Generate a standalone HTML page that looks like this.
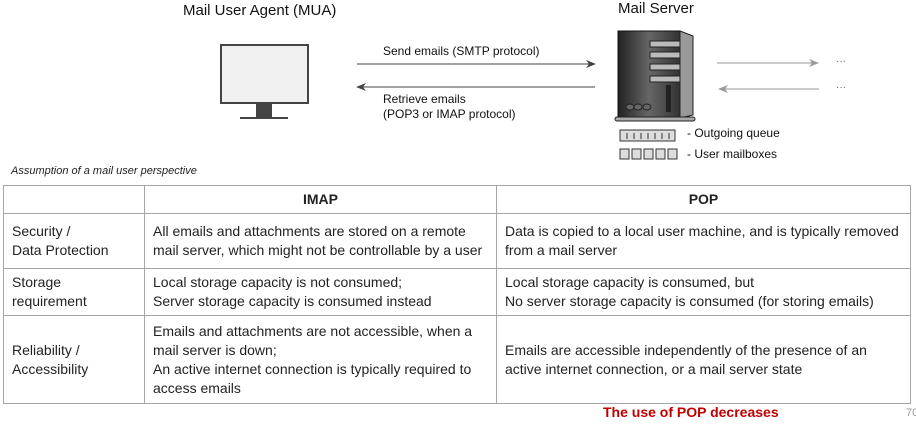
<!DOCTYPE html>
<html><head><style>
body{margin:0;width:916px;height:426px;background:#fff;position:relative;font-family:"Liberation Sans",sans-serif;overflow:hidden}
.t{position:absolute;white-space:nowrap;color:#111}
table{position:absolute;left:3px;top:185px;border-collapse:collapse;font-size:14px;color:#222}
td{border:1px solid #a6a6a6;padding:0 8px;vertical-align:middle;line-height:19px;white-space:nowrap}
</style></head><body>
<div class="t" style="left:183px;top:2px;font-size:15px">Mail User Agent (MUA)</div>
<div class="t" style="left:618px;top:0px;font-size:15px">Mail Server</div>
<div class="t" style="left:383px;top:44px;font-size:12px">Send emails (SMTP protocol)</div>
<div class="t" style="left:383px;top:92px;font-size:12px;line-height:15px">Retrieve emails<br>(POP3 or IMAP protocol)</div>
<svg style="position:absolute;left:0;top:0" width="916" height="180">
<rect x="221" y="45" width="87" height="58" fill="#f0f0f0" stroke="#444" stroke-width="2"/>
<rect x="256" y="104" width="16" height="14" fill="#444"/>
<rect x="240" y="117" width="48" height="2" fill="#444"/>
<line x1="357" y1="64" x2="592" y2="64" stroke="#444"/><path d="M596 64 L586 60 L589 64 L586 68Z" fill="#444"/>
<line x1="360" y1="87" x2="595" y2="87" stroke="#444"/><path d="M356 87 L366 83 L363 87 L366 91Z" fill="#444"/>
<line x1="717" y1="63" x2="815" y2="63" stroke="#999"/><path d="M819 63 L809 59 L812 63 L809 67Z" fill="#999"/>
<line x1="722" y1="89" x2="819" y2="89" stroke="#999"/><path d="M718 89 L728 85 L725 89 L728 93Z" fill="#999"/>
<text x="836" y="64" font-size="10" fill="#666">···</text><text x="836" y="90" font-size="10" fill="#666">···</text>
<defs><linearGradient id="g" x1="0" x2="1"><stop offset="0" stop-color="#222"/><stop offset=".5" stop-color="#666"/><stop offset="1" stop-color="#333"/></linearGradient></defs>
<rect x="618" y="31" width="62" height="87" fill="url(#g)" stroke="#111"/>
<path d="M680 31 L693 36 L693 115 L680 118Z" fill="#999" stroke="#222"/>
<g fill="#bbb" stroke="#222"><rect x="650" y="41" width="30" height="6"/><rect x="650" y="52" width="30" height="6"/><rect x="650" y="64" width="30" height="6"/><rect x="650" y="76" width="30" height="6"/></g>
<rect x="666" y="85" width="5" height="27" fill="#222"/>
<g fill="#666" stroke="#222"><ellipse cx="630" cy="107" rx="4" ry="3"/><ellipse cx="638" cy="107" rx="4" ry="3"/><ellipse cx="647" cy="107" rx="4" ry="3"/></g>
<rect x="615" y="117" width="80" height="4" rx="2" fill="#aaa" stroke="#222"/>
<rect x="620" y="130" width="55" height="11" fill="#ddd" stroke="#333"/>
<g stroke="#333"><line x1="627" y1="133" x2="627" y2="139"/><line x1="634" y1="133" x2="634" y2="139"/><line x1="641" y1="133" x2="641" y2="139"/><line x1="648" y1="133" x2="648" y2="139"/><line x1="655" y1="133" x2="655" y2="139"/><line x1="662" y1="133" x2="662" y2="139"/><line x1="669" y1="133" x2="669" y2="139"/></g>
<g fill="#ddd" stroke="#333"><rect x="620" y="149" width="9" height="10"/><rect x="632" y="149" width="9" height="10"/><rect x="644" y="149" width="9" height="10"/><rect x="656" y="149" width="9" height="10"/><rect x="668" y="149" width="9" height="10"/></g>
</svg>
<div class="t" style="left:687px;top:126px;font-size:12px">- Outgoing queue</div>
<div class="t" style="left:687px;top:147px;font-size:12px">- User mailboxes</div>
<div class="t" style="left:11px;top:165px;font-size:11px;font-style:italic;color:#222">Assumption of a mail user perspective</div>
<table>
<tr style="height:28px"><td style="width:124px;max-width:124px"></td><td style="width:335px;max-width:335px;text-align:center;font-weight:bold">IMAP</td><td style="width:397px;max-width:397px;text-align:center;font-weight:bold">POP</td></tr>
<tr style="height:55px"><td>Security /<br>Data Protection</td><td>All emails and attachments are stored on a remote<br>mail server, which might not be controllable by a user</td><td>Data is copied to a local user machine, and is typically removed<br>from a mail server</td></tr>
<tr style="height:47px"><td>Storage<br>requirement</td><td>Local storage capacity is not consumed;<br>Server storage capacity is consumed instead</td><td>Local storage capacity is consumed, but<br>No server storage capacity is consumed (for storing emails)</td></tr>
<tr style="height:88px"><td>Reliability /<br>Accessibility</td><td>Emails and attachments are not accessible, when a<br>mail server is down;<br>An active internet connection is typically required to<br>access emails</td><td>Emails are accessible independently of the presence of an<br>active internet connection, or a mail server state</td></tr>
</table>
<div class="t" style="left:603px;top:404px;font-size:14px;font-weight:bold;color:#c00000">The use of POP decreases</div>
<div class="t" style="left:906px;top:407px;font-size:11px;color:#999">70</div>
</body></html>
